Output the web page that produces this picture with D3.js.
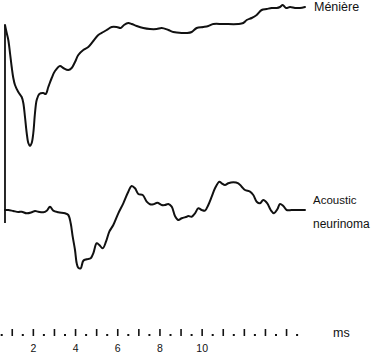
<!DOCTYPE html>
<html><head><meta charset="utf-8">
<script src="https://cdn.jsdelivr.net/npm/d3@7"></script>
<style>html,body{margin:0;padding:0;background:#fff;}svg{display:block;}</style>
</head><body>
<svg id="chart" width="374" height="354"></svg>
<script>
// Time (ms) and amplitude (arbitrary units)
const menTime = [0.656,0.737,0.813,0.893,0.974,1.050,1.130,1.287,1.448,1.524,1.604,1.685,1.761,1.841,1.922,1.998,2.078,2.159,2.282,2.472,2.585,2.709,2.870,3.026,3.263,3.419,3.656,3.817,3.974,4.130,4.367,4.604,4.841,5.078,5.315,5.476,5.713,5.950,6.140,6.296,6.500,6.661,6.898,7.211,7.528,7.846,8.083,8.396,8.633,9.031,9.268,9.505,9.742,10.055,10.292,10.528,11.002,11.713,11.950,12.111,12.348,12.585,12.822,13.059,13.296,13.533,13.690,13.818,13.975,14.164,14.401,14.637,14.874];
const menAmp  = [12.5,11.7,11.0,9.7,8.3,7.2,6.5,5.8,5.3,4.7,3.3,1.7,0.7,0.4,0.7,1.7,3.7,5.0,5.6,5.7,5.6,6.3,7.2,7.9,8.4,8.2,8.0,8.2,8.8,9.5,10.0,10.3,10.9,11.5,11.8,12.0,12.3,12.3,12.2,12.5,12.7,12.6,12.4,12.2,12.1,12.1,12.2,12.0,11.8,11.7,11.7,11.8,12.2,12.3,12.4,12.6,12.6,12.6,12.7,13.0,13.2,13.5,14.0,14.1,14.2,14.2,14.3,14.5,14.2,14.3,14.2,14.2,14.3];

const acuTime = [0.656,0.813,1.050,1.287,1.448,1.685,1.922,2.078,2.235,2.472,2.633,2.789,2.945,3.182,3.500,3.656,3.770,3.865,3.974,4.055,4.130,4.244,4.367,4.528,4.718,4.841,5.002,5.126,5.287,5.443,5.600,5.789,6.026,6.263,6.500,6.661,6.818,6.974,7.183,7.372,7.528,7.685,7.874,8.083,8.239,8.396,8.557,8.713,8.870,9.031,9.268,9.344,9.505,9.661,9.818,9.979,10.135,10.292,10.453,10.609,10.813,10.927,11.083,11.240,11.476,11.713,11.874,12.031,12.268,12.424,12.585,12.742,12.898,13.088,13.249,13.405,13.562,13.690,13.846,14.007,14.244,14.637,14.874];
const acuAmp  = [0,0,-0.1,-0.2,-0.17,-0.33,-0.23,-0.1,-0.17,-0.23,-0.07,0.33,-0.07,-0.23,-0.33,-0.5,-1.33,-2.67,-4.0,-5.33,-5.77,-5.83,-5.07,-4.93,-4.83,-4.33,-3.33,-3.5,-3.83,-3.17,-2.17,-1.5,-0.33,0.67,1.83,2.4,2.17,1.6,1.5,0.83,0.57,0.57,0.73,0.5,0.5,0.6,0.33,-0.6,-1.0,-0.83,-0.67,-0.6,-0.67,-0.33,0.17,0,-0.07,0.5,1.33,2.17,2.83,2.67,2.5,2.67,2.77,2.67,2.33,2.0,1.83,1.5,0.83,0.67,1.0,0.67,0,-0.33,0.07,0.6,0.4,0,0,0,0];

// stimulus artifact (Ménière units)
const artifactTime = [0.656, 0.656];
const artifactAmp  = [-7.3, 12.5];

const majorTicks = [1,2,3,4,5,6,7,8,9,10,11,12,13,14];
const minorTicks = [0.5,1.5,2.5,3.5,4.5,5.5,6.5,7.5,8.5,9.5,10.5,11.5,12.5,13.5,14.5];
const tickLabels = [2,4,6,8,10];
const unitLabel = "ms";
const seriesNames = ["Ménière", ["Acoustic","neurinoma"]];

const svg = d3.select("#chart");
const font = "'Liberation Sans', Arial, Helvetica, sans-serif";

const x = d3.scaleLinear().domain([0, 15]).range([-8.85, 307.65]);
const yMen = d3.scaleLinear().domain([0, 10]).range([150, 50]);
const yAcu = d3.scaleLinear().domain([0, 10]).range([210, 110]);

const men = menTime.map((t,i)=>[t, menAmp[i]]);
const acu = acuTime.map((t,i)=>[t, acuAmp[i]]);
const art = artifactTime.map((t,i)=>[t, artifactAmp[i]]);

const lineMen = d3.line().x(d=>x(d[0])).y(d=>yMen(d[1])).curve(d3.curveCatmullRom.alpha(0.5));
const lineAcu = d3.line().x(d=>x(d[0])).y(d=>yAcu(d[1])).curve(d3.curveCatmullRom.alpha(0.5));
const lineArt = d3.line().x(d=>x(d[0])).y(d=>yMen(d[1]));

svg.append("path").attr("d", lineArt(art)).attr("fill","none").attr("stroke","#111").attr("stroke-width",1.8);
svg.append("path").attr("d", lineMen(men)).attr("fill","none").attr("stroke","#111").attr("stroke-width",2).attr("stroke-linejoin","round").attr("stroke-linecap","round");
svg.append("path").attr("d", lineAcu(acu)).attr("fill","none").attr("stroke","#111").attr("stroke-width",2).attr("stroke-linejoin","round").attr("stroke-linecap","round");

// series labels
svg.append("text").attr("x",314).attr("y",11).attr("font-family",font).attr("font-size",12.5).attr("fill","#111").text(seriesNames[0]);
svg.append("text").attr("x",313).attr("y",204).attr("font-family",font).attr("font-size",11.5).attr("fill","#111").text(seriesNames[1][0]);
svg.append("text").attr("x",313).attr("y",228).attr("font-family",font).attr("font-size",12).attr("fill","#111").text(seriesNames[1][1]);

// time axis (ticks only, no baseline)
const axisG = svg.append("g");
axisG.selectAll("line.major").data(majorTicks).join("line").attr("class","major")
  .attr("x1",d=>x(d)).attr("x2",d=>x(d)).attr("y1",329).attr("y2",336)
  .attr("stroke","#111").attr("stroke-width",1.6);
axisG.selectAll("rect.minor").data(minorTicks).join("rect").attr("class","minor")
  .attr("x",d=>x(d)-1).attr("y",334).attr("width",2).attr("height",2).attr("fill","#111");
axisG.selectAll("text.lab").data(tickLabels).join("text").attr("class","lab")
  .attr("x",d=>x(d)).attr("y",352).attr("text-anchor","middle")
  .attr("font-family",font).attr("font-size",10.5).attr("fill","#111").text(d=>d);
svg.append("text").attr("x",333).attr("y",337).attr("font-family",font).attr("font-size",12.5).attr("fill","#111").text(unitLabel);
</script>
</body></html>
